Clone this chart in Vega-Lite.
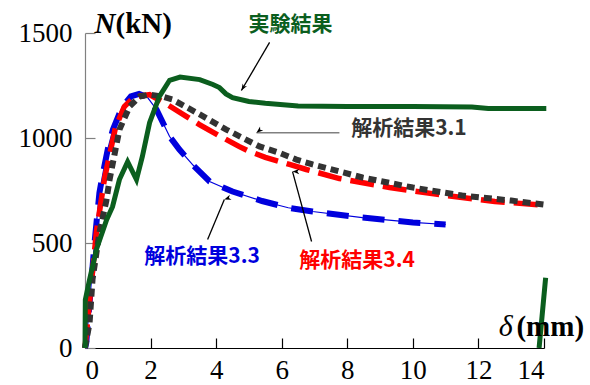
{
  "$schema": "https://vega.github.io/schema/vega-lite/v6.json",
  "width": 459,
  "height": 315,
  "autosize": {"type": "none"},
  "padding": {"left": 85, "top": 33, "right": 46, "bottom": 37},
  "background": "white",
  "config": {
    "view": {"stroke": null},
    "axis": {"grid": false, "labelFont": "Liberation Serif", "labelFontSize": 27, "labelColor": "black", "title": null, "tickSize": -10, "tickWidth": 1.2, "domainWidth": 1.2, "format": "d"},
    "axisY": {"domainColor": "#808080", "tickColor": "#808080", "labelPadding": 23},
    "axisX": {"domainColor": "black", "tickColor": "black", "labelPadding": 19}
  },
  "resolve": {"scale": {"color": "independent", "angle": "independent"}},
  "datasets": {
    "curves": [
      {"s": "3.3", "seg": 1, "x": 0, "y": 0},
      {"s": "3.3", "seg": 1, "x": 0.04, "y": 26},
      {"s": "3.3", "seg": 1, "x": 0.29, "y": 500},
      {"s": "3.3", "seg": 1, "x": 0.44, "y": 740},
      {"s": "3.3", "seg": 1, "x": 0.55, "y": 834},
      {"s": "3.3", "seg": 1, "x": 0.7, "y": 950},
      {"s": "3.3", "seg": 1, "x": 0.85, "y": 1040},
      {"s": "3.3", "seg": 1, "x": 1.14, "y": 1150},
      {"s": "3.3", "seg": 1, "x": 1.4, "y": 1198},
      {"s": "3.3", "seg": 1, "x": 1.65, "y": 1210},
      {"s": "3.3", "seg": 1, "x": 1.9, "y": 1195},
      {"s": "3.3", "seg": 1, "x": 2.18, "y": 1136},
      {"s": "3.3", "seg": 1, "x": 2.58, "y": 1007},
      {"s": "3.3", "seg": 1, "x": 2.88, "y": 945},
      {"s": "3.3", "seg": 1, "x": 3.3, "y": 870},
      {"s": "3.3", "seg": 1, "x": 3.8, "y": 793},
      {"s": "3.3", "seg": 1, "x": 4.5, "y": 745},
      {"s": "3.3", "seg": 1, "x": 5.4, "y": 700},
      {"s": "3.3", "seg": 1, "x": 6.2, "y": 668},
      {"s": "3.3", "seg": 1, "x": 6.94, "y": 650},
      {"s": "3.3", "seg": 1, "x": 8.46, "y": 621},
      {"s": "3.3", "seg": 1, "x": 10, "y": 598},
      {"s": "3.3", "seg": 1, "x": 11, "y": 588},
      {"s": "3.4", "seg": 1, "x": 0, "y": 0},
      {"s": "3.4", "seg": 1, "x": 0.35, "y": 555},
      {"s": "3.4", "seg": 1, "x": 0.6, "y": 811},
      {"s": "3.4", "seg": 1, "x": 0.93, "y": 1050},
      {"s": "3.4", "seg": 1, "x": 1.2, "y": 1150},
      {"s": "3.4", "seg": 1, "x": 1.5, "y": 1195},
      {"s": "3.4", "seg": 1, "x": 1.97, "y": 1207},
      {"s": "3.4", "seg": 1, "x": 2.5, "y": 1160},
      {"s": "3.4", "seg": 1, "x": 3.1, "y": 1102},
      {"s": "3.4", "seg": 1, "x": 3.49, "y": 1064},
      {"s": "3.4", "seg": 1, "x": 4.1, "y": 1010},
      {"s": "3.4", "seg": 1, "x": 4.71, "y": 959},
      {"s": "3.4", "seg": 1, "x": 5.02, "y": 936},
      {"s": "3.4", "seg": 1, "x": 5.5, "y": 908},
      {"s": "3.4", "seg": 1, "x": 6.24, "y": 874},
      {"s": "3.4", "seg": 1, "x": 6.75, "y": 850},
      {"s": "3.4", "seg": 1, "x": 7.76, "y": 807},
      {"s": "3.4", "seg": 1, "x": 9.29, "y": 764},
      {"s": "3.4", "seg": 1, "x": 11, "y": 726},
      {"s": "3.4", "seg": 1, "x": 12.5, "y": 698},
      {"s": "3.4", "seg": 1, "x": 14, "y": 680},
      {"s": "3.1", "seg": 1, "x": 0, "y": 0},
      {"s": "3.1", "seg": 1, "x": 0.14, "y": 120},
      {"s": "3.1", "seg": 1, "x": 0.23, "y": 327},
      {"s": "3.1", "seg": 1, "x": 0.44, "y": 550},
      {"s": "3.1", "seg": 1, "x": 0.65, "y": 700},
      {"s": "3.1", "seg": 1, "x": 0.75, "y": 802},
      {"s": "3.1", "seg": 1, "x": 1.05, "y": 1040},
      {"s": "3.1", "seg": 1, "x": 1.36, "y": 1150},
      {"s": "3.1", "seg": 1, "x": 1.66, "y": 1197},
      {"s": "3.1", "seg": 1, "x": 1.97, "y": 1207},
      {"s": "3.1", "seg": 1, "x": 2.36, "y": 1197},
      {"s": "3.1", "seg": 1, "x": 2.67, "y": 1183},
      {"s": "3.1", "seg": 1, "x": 3.4, "y": 1121},
      {"s": "3.1", "seg": 1, "x": 4.31, "y": 1040},
      {"s": "3.1", "seg": 1, "x": 5.32, "y": 960},
      {"s": "3.1", "seg": 1, "x": 5.93, "y": 929},
      {"s": "3.1", "seg": 1, "x": 6.45, "y": 897},
      {"s": "3.1", "seg": 1, "x": 6.94, "y": 874},
      {"s": "3.1", "seg": 1, "x": 8.46, "y": 812},
      {"s": "3.1", "seg": 1, "x": 10, "y": 764},
      {"s": "3.1", "seg": 1, "x": 11.5, "y": 726},
      {"s": "3.1", "seg": 1, "x": 13, "y": 702},
      {"s": "3.1", "seg": 1, "x": 14, "y": 683},
      {"s": "exp", "seg": 1, "x": 0, "y": 0},
      {"s": "exp", "seg": 1, "x": 0.01, "y": 230},
      {"s": "exp", "seg": 1, "x": 0.14, "y": 326},
      {"s": "exp", "seg": 1, "x": 0.35, "y": 470},
      {"s": "exp", "seg": 1, "x": 0.66, "y": 611},
      {"s": "exp", "seg": 1, "x": 0.84, "y": 673},
      {"s": "exp", "seg": 1, "x": 1.05, "y": 802},
      {"s": "exp", "seg": 1, "x": 1.3, "y": 887},
      {"s": "exp", "seg": 1, "x": 1.57, "y": 802},
      {"s": "exp", "seg": 1, "x": 1.75, "y": 912},
      {"s": "exp", "seg": 1, "x": 1.97, "y": 1073},
      {"s": "exp", "seg": 1, "x": 2.27, "y": 1198},
      {"s": "exp", "seg": 1, "x": 2.58, "y": 1275},
      {"s": "exp", "seg": 1, "x": 2.9, "y": 1290},
      {"s": "exp", "seg": 1, "x": 3.5, "y": 1278},
      {"s": "exp", "seg": 1, "x": 3.9, "y": 1255},
      {"s": "exp", "seg": 1, "x": 4.1, "y": 1240},
      {"s": "exp", "seg": 1, "x": 4.3, "y": 1210},
      {"s": "exp", "seg": 1, "x": 4.5, "y": 1192},
      {"s": "exp", "seg": 1, "x": 5.0, "y": 1174},
      {"s": "exp", "seg": 1, "x": 5.5, "y": 1165},
      {"s": "exp", "seg": 1, "x": 6.5, "y": 1152},
      {"s": "exp", "seg": 1, "x": 8, "y": 1150},
      {"s": "exp", "seg": 1, "x": 10, "y": 1150},
      {"s": "exp", "seg": 1, "x": 11.8, "y": 1148},
      {"s": "exp", "seg": 1, "x": 12.3, "y": 1140},
      {"s": "exp", "seg": 1, "x": 14.07, "y": 1140},
      {"s": "exp", "seg": 2, "x": 13.85, "y": 0},
      {"s": "exp", "seg": 2, "x": 13.94, "y": 150},
      {"s": "exp", "seg": 2, "x": 14.05, "y": 335}
    ],
    "arrows": [
      {"id": "a1", "x": 5.63, "y": 1455, "x2": 4.77, "y2": 1226},
      {"id": "a2", "x": 7.76, "y": 1025, "x2": 5.23, "y2": 1025},
      {"id": "a3", "x": 3.74, "y": 517, "x2": 4.25, "y2": 707},
      {"id": "a4", "x": 6.91, "y": 507, "x2": 6.33, "y2": 840}
    ],
    "notes": [
      {"g": "exp", "label": "実験結果", "x": 6.27, "y": 1536},
      {"g": "3.1", "label": "解析結果3.1", "x": 9.88, "y": 1045},
      {"g": "3.3", "label": "解析結果3.3", "x": 3.57, "y": 431},
      {"g": "3.4", "label": "解析結果3.4", "x": 8.3, "y": 412}
    ],
    "axisnames": [
      {"part": "ib", "label": "N", "x": 0.29, "y": 1502},
      {"part": "b", "label": "(kN)", "x": 0.93, "y": 1502},
      {"part": "i", "label": "δ", "x": 12.62, "y": 55},
      {"part": "b", "label": "(mm)", "x": 13.16, "y": 55}
    ]
  },
  "encoding": {
    "x": {"field": "x", "type": "quantitative", "scale": {"domain": [0, 14], "nice": false, "zero": false}, "axis": {"values": [0, 2, 4, 6, 8, 10, 12, 14]}},
    "y": {"field": "y", "type": "quantitative", "scale": {"domain": [0, 1500], "nice": false}, "axis": {"values": [0, 500, 1000, 1500]}}
  },
  "layer": [
    {
      "data": {"name": "curves"},
      "transform": [{"filter": "datum.s === '3.3'"}],
      "mark": {"type": "line", "color": "#0000dd", "strokeWidth": 1.2, "clip": false},
      "encoding": {}
    },
    {
      "data": {"name": "curves"},
      "transform": [{"filter": "datum.s === '3.3'"}],
      "mark": {"type": "line", "color": "#0000dd", "strokeWidth": 6, "strokeDash": [22, 14], "clip": false},
      "encoding": {}
    },
    {
      "data": {"name": "curves"},
      "transform": [{"filter": "datum.s === '3.4'"}],
      "mark": {"type": "line", "color": "#ff0000", "strokeWidth": 5.5, "strokeDash": [24, 9], "clip": false},
      "encoding": {}
    },
    {
      "data": {"name": "curves"},
      "transform": [{"filter": "datum.s === '3.1'"}],
      "mark": {"type": "line", "color": "#333333", "strokeWidth": 6, "strokeDash": [8, 5], "clip": false},
      "encoding": {}
    },
    {
      "data": {"name": "curves"},
      "transform": [{"filter": "datum.s === 'exp'"}],
      "mark": {"type": "line", "color": "#0b5e1e", "strokeWidth": 5, "clip": false},
      "encoding": {"detail": {"field": "seg", "type": "nominal"}}
    },
    {
      "data": {"name": "arrows"},
      "mark": {"type": "rule", "strokeWidth": 1.3},
      "encoding": {
        "x2": {"field": "x2"},
        "y2": {"field": "y2"},
        "color": {"field": "id", "type": "nominal", "legend": null, "scale": {"domain": ["a1", "a2", "a3", "a4"], "range": ["#000000", "#808080", "#000000", "#000000"]}}
      }
    },
    {
      "data": {"name": "arrows"},
      "mark": {"type": "point", "filled": true, "color": "black", "opacity": 1, "shape": "M0,0L0.38,1L0,0.72L-0.38,1Z", "size": 180, "strokeWidth": 0},
      "encoding": {
        "x": {"field": "x2", "type": "quantitative"},
        "y": {"field": "y2", "type": "quantitative"},
        "angle": {"field": "id", "type": "nominal", "legend": null, "scale": {"domain": ["a1", "a2", "a3", "a4"], "range": [211, 270, 23, 345]}}
      }
    },
    {
      "data": {"name": "notes"},
      "mark": {"type": "text", "font": "Noto Sans CJK JP", "fontWeight": "bold", "fontSize": 21, "align": "center", "baseline": "middle"},
      "encoding": {
        "text": {"field": "label"},
        "color": {"field": "g", "type": "nominal", "legend": null, "scale": {"domain": ["exp", "3.1", "3.3", "3.4"], "range": ["#0b5e1e", "#333333", "#0000dd", "#ff0000"]}}
      }
    },
    {
      "data": {"name": "axisnames"},
      "transform": [{"filter": "datum.part === 'ib'"}],
      "mark": {"type": "text", "font": "Liberation Serif", "fontWeight": "bold", "fontStyle": "italic", "fontSize": 29, "align": "left", "baseline": "alphabetic", "color": "black"},
      "encoding": {"text": {"field": "label"}}
    },
    {
      "data": {"name": "axisnames"},
      "transform": [{"filter": "datum.part === 'i'"}],
      "mark": {"type": "text", "font": "Liberation Serif", "fontStyle": "italic", "fontSize": 30, "align": "left", "baseline": "alphabetic", "color": "black"},
      "encoding": {"text": {"field": "label"}}
    },
    {
      "data": {"name": "axisnames"},
      "transform": [{"filter": "datum.part === 'b'"}],
      "mark": {"type": "text", "font": "Liberation Serif", "fontWeight": "bold", "fontSize": 29, "align": "left", "baseline": "alphabetic", "color": "black"},
      "encoding": {"text": {"field": "label"}}
    }
  ]
}
